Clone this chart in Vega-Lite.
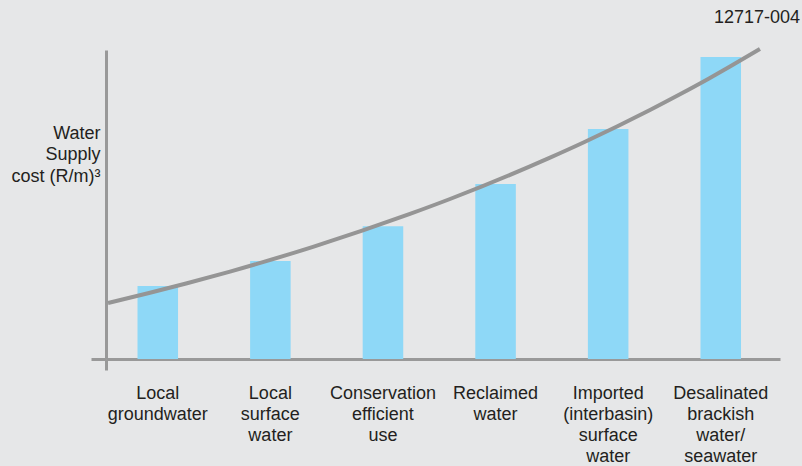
{
  "$schema": "https://vega.github.io/schema/vega-lite/v6.json",
  "width": 674,
  "height": 309,
  "autosize": {"type": "none"},
  "padding": {"left": 106, "top": 50, "right": 22, "bottom": 107},
  "background": "#e6e7e8",
  "config": {
    "view": {"stroke": null},
    "font": "Liberation Sans",
    "axis": {"grid": false}
  },
  "title": {
    "text": "12717-004",
    "anchor": "end",
    "frame": "group",
    "dx": 20,
    "offset": 0,
    "baseline": "alphabetic",
    "fontSize": 18,
    "fontWeight": "normal",
    "color": "#231f20",
    "font": "Liberation Sans"
  },
  "datasets": {
    "bars": [
      {"source": "Local groundwater", "cost": 23.6},
      {"source": "Local surface water", "cost": 31.7},
      {"source": "Conservation efficient use", "cost": 43.0},
      {"source": "Reclaimed water", "cost": 56.6},
      {"source": "Imported (interbasin) surface water", "cost": 74.4},
      {"source": "Desalinated brackish water/ seawater", "cost": 97.7}
    ],
    "curve": [
      {"x": 0.3, "cost": 18.12},
      {"x": 6.38, "cost": 21.36},
      {"x": 12.02, "cost": 24.5},
      {"x": 18.4, "cost": 28.28},
      {"x": 30.71, "cost": 36.31},
      {"x": 45.1, "cost": 46.96},
      {"x": 51.04, "cost": 51.78},
      {"x": 65.88, "cost": 65.18},
      {"x": 70.92, "cost": 70.16},
      {"x": 80.71, "cost": 80.58},
      {"x": 85.16, "cost": 85.66},
      {"x": 89.47, "cost": 90.78},
      {"x": 92.58, "cost": 94.63},
      {"x": 97.03, "cost": 100.32}
    ]
  },
  "layer": [
    {
      "data": {"name": "bars"},
      "mark": {"type": "bar", "color": "#8ed8f7"},
      "encoding": {
        "x": {
          "field": "source",
          "type": "nominal",
          "sort": null,
          "scale": {"paddingInner": 0.64, "paddingOuter": 0.313, "align": 0.447},
          "axis": {
            "title": null,
            "domainColor": "#999999",
            "domainWidth": 3,
            "ticks": false,
            "labelAngle": 0,
            "labelExpr": "split(datum.label, ' ')",
            "labelFontSize": 18,
            "labelColor": "#231f20",
            "labelPadding": 25,
            "labelLineHeight": 21,
            "labelBaseline": "top",
            "labelFont": "Liberation Sans"
          }
        },
        "y": {
          "field": "cost",
          "type": "quantitative",
          "scale": {"domain": [0, 100], "nice": false},
          "axis": {
            "title": ["Water", "Supply", "cost (R/m)³"],
            "titleAngle": 0,
            "titleAlign": "right",
            "titleBaseline": "alphabetic",
            "titleX": -6,
            "titleY": 88,
            "titleFontSize": 18,
            "titleFontWeight": "normal",
            "titleColor": "#231f20",
            "titleLineHeight": 21.5,
            "titleFont": "Liberation Sans",
            "domainColor": "#999999",
            "domainWidth": 3,
            "values": [0],
            "tickSize": 15,
            "tickWidth": 3,
            "tickColor": "#999999",
            "labels": false
          }
        }
      }
    },
    {
      "data": {"name": "curve"},
      "mark": {"type": "line", "color": "#959595", "strokeWidth": 4, "interpolate": "monotone"},
      "encoding": {
        "x": {
          "field": "x",
          "type": "quantitative",
          "scale": {"domain": [0, 100], "nice": false},
          "axis": {
            "orient": "bottom",
            "values": [0],
            "tickSize": 11,
            "tickWidth": 3,
            "tickColor": "#999999",
            "domain": false,
            "labels": false,
            "title": null
          }
        },
        "y": {"field": "cost", "type": "quantitative"}
      }
    }
  ],
  "resolve": {"scale": {"x": "independent"}}
}
